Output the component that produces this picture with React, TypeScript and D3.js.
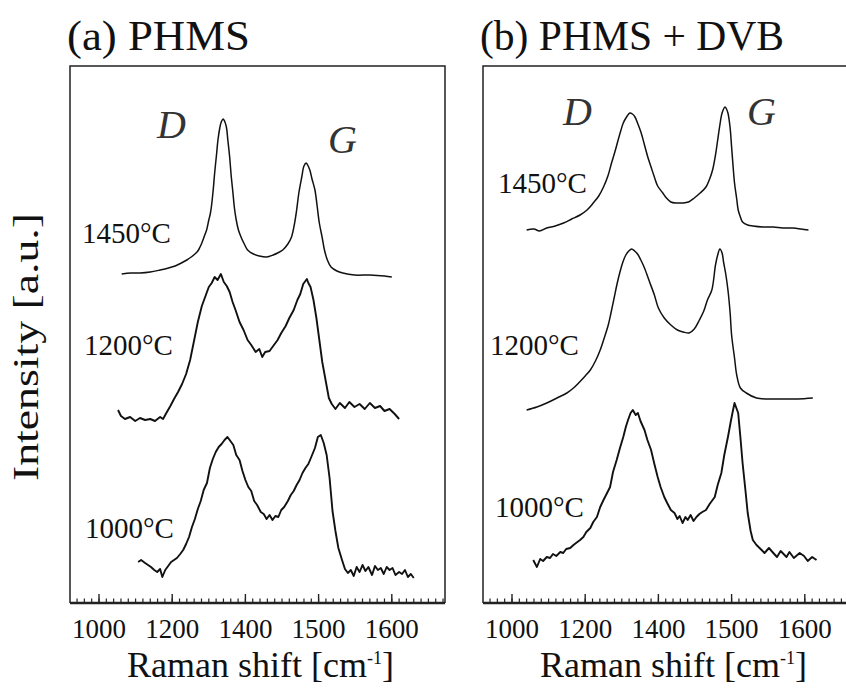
import * as d3 from "d3";

const W = 846;
const H = 689;

// axis labels (the original axis is evenly spaced between these labels)
const tickValues = [1000, 1200, 1400, 1500, 1600];
const panelTitles = ["(a) PHMS", "(b) PHMS + DVB"];
const tempLabels = ["1450°C", "1200°C", "1000°C"];

// [Raman shift, intensity (a.u., stacked)]
const phms1450 = [
  [1062, 329], [1087, 330], [1112, 330], [1140, 331], [1167, 333], [1190, 335], [1208, 337], [1225, 340],
  [1240, 343], [1252, 346], [1262, 349], [1270, 352], [1276, 356], [1281, 360], [1286, 365], [1290, 369],
  [1294, 373], [1300, 383], [1304, 389], [1307, 396], [1312, 413], [1316, 430], [1321, 448], [1325, 463],
  [1330, 475], [1334, 481], [1339, 484], [1343, 482], [1348, 476], [1352, 463], [1357, 446], [1361, 428],
  [1366, 410], [1370, 395], [1375, 383], [1381, 373], [1388, 366], [1397, 359], [1403, 353], [1411, 349],
  [1419, 347], [1429, 346], [1438, 348], [1444, 350], [1451, 353], [1458, 359], [1463, 366], [1467, 379],
  [1470, 393], [1473, 410], [1477, 426], [1480, 437], [1483, 440], [1485, 438], [1488, 433], [1491, 424],
  [1495, 413], [1498, 397], [1501, 380], [1505, 365], [1508, 353], [1512, 343], [1517, 336], [1525, 332],
  [1533, 330], [1549, 328], [1570, 328], [1590, 327], [1600, 326],
];

const phms1200 = [
  [1052, 193], [1060, 187], [1071, 184], [1085, 186], [1099, 182], [1112, 185], [1126, 183], [1140, 184],
  [1153, 182], [1167, 186], [1175, 184], [1184, 190], [1195, 197], [1205, 204], [1216, 211], [1227, 219],
  [1238, 229], [1249, 243], [1259, 261], [1270, 281], [1281, 297], [1292, 308], [1300, 316], [1308, 320],
  [1316, 326], [1324, 323], [1333, 329], [1341, 321], [1349, 317], [1357, 311], [1365, 301], [1373, 293],
  [1384, 281], [1395, 273], [1403, 263], [1408, 258], [1414, 251], [1419, 254], [1423, 246], [1427, 251],
  [1433, 252], [1438, 257], [1444, 263], [1449, 270], [1455, 277], [1460, 285], [1466, 293], [1471, 303],
  [1475, 309], [1479, 319], [1484, 324], [1486, 320], [1489, 316], [1493, 303], [1497, 285], [1501, 263],
  [1505, 241], [1510, 221], [1514, 205], [1518, 199], [1523, 194], [1529, 200], [1536, 195], [1542, 201],
  [1549, 196], [1556, 199], [1563, 194], [1570, 200], [1577, 195], [1584, 197], [1590, 192], [1597, 194],
  [1604, 189], [1610, 184],
];

const phms1000 = [
  [1107, 41], [1115, 43], [1126, 40], [1134, 38], [1142, 36], [1151, 33], [1159, 31], [1167, 34],
  [1173, 26], [1181, 33], [1189, 37], [1197, 41], [1205, 43], [1213, 45], [1222, 49], [1230, 53],
  [1238, 59], [1246, 66], [1254, 76], [1262, 84], [1270, 94], [1278, 102], [1286, 113], [1295, 120],
  [1303, 135], [1311, 144], [1319, 151], [1327, 156], [1335, 159], [1343, 163], [1351, 166], [1359, 162],
  [1367, 158], [1375, 148], [1384, 143], [1392, 132], [1400, 123], [1404, 116], [1408, 112], [1412, 102],
  [1416, 98], [1421, 91], [1425, 89], [1429, 84], [1433, 88], [1437, 83], [1441, 87], [1445, 86],
  [1449, 93], [1453, 96], [1458, 102], [1462, 108], [1466, 112], [1470, 118], [1474, 123], [1478, 130],
  [1482, 135], [1486, 139], [1490, 146], [1495, 155], [1499, 166], [1503, 168], [1507, 160], [1511, 148],
  [1515, 125], [1519, 92], [1523, 72], [1527, 55], [1532, 43], [1536, 34], [1540, 30], [1544, 33],
  [1548, 27], [1552, 36], [1556, 31], [1560, 38], [1564, 32], [1568, 36], [1573, 28], [1577, 37],
  [1581, 33], [1585, 35], [1589, 29], [1593, 36], [1597, 33], [1601, 35], [1605, 28], [1610, 31],
  [1614, 29], [1618, 33], [1622, 26], [1626, 29], [1630, 25],
];

const dvb1450 = [
  [1040, 373], [1060, 374], [1075, 372], [1095, 375], [1118, 377], [1141, 380], [1163, 384], [1186, 388],
  [1205, 393], [1222, 400], [1237, 407], [1250, 416], [1262, 427], [1272, 440], [1281, 451], [1290, 463],
  [1297, 472], [1304, 480], [1313, 486], [1322, 490], [1329, 489], [1336, 486], [1344, 479], [1353, 470],
  [1362, 458], [1371, 446], [1380, 436], [1389, 426], [1398, 417], [1406, 410], [1411, 405], [1417, 401],
  [1425, 400], [1433, 400], [1441, 401], [1449, 405], [1457, 410], [1465, 416], [1470, 424], [1474, 433],
  [1478, 448], [1481, 463], [1484, 478], [1487, 490], [1491, 496], [1493, 494], [1495, 490], [1498, 475],
  [1500, 456], [1502, 437], [1504, 420], [1507, 404], [1509, 393], [1512, 386], [1515, 381], [1522, 378],
  [1529, 377], [1543, 376], [1557, 376], [1570, 375], [1584, 375], [1595, 374], [1605, 373],
];

const dvb1200 = [
  [1040, 193], [1068, 196], [1095, 200], [1123, 205], [1150, 210], [1168, 215], [1182, 220], [1200, 227],
  [1214, 233], [1228, 242], [1241, 253], [1252, 265], [1263, 278], [1271, 291], [1279, 305], [1287, 319],
  [1295, 331], [1303, 341], [1311, 348], [1319, 352], [1327, 354], [1335, 352], [1343, 349], [1352, 343],
  [1362, 335], [1375, 322], [1389, 308], [1400, 295], [1408, 285], [1417, 278], [1426, 273], [1434, 271],
  [1442, 270], [1449, 274], [1456, 283], [1462, 292], [1467, 303], [1473, 313], [1478, 338], [1481, 348],
  [1484, 354], [1487, 350], [1489, 341], [1492, 329], [1495, 313], [1498, 290], [1500, 268], [1504, 245],
  [1507, 228], [1512, 215], [1520, 210], [1534, 205], [1550, 204], [1566, 204], [1590, 204], [1611, 205],
];

const dvb1000 = [
  [1058, 43], [1068, 36], [1077, 44], [1085, 42], [1095, 46], [1104, 45], [1112, 49], [1121, 47],
  [1132, 51], [1140, 50], [1148, 54], [1159, 55], [1168, 58], [1175, 60], [1186, 63], [1195, 66],
  [1203, 71], [1214, 75], [1222, 81], [1232, 86], [1241, 96], [1250, 103], [1257, 108], [1268, 116],
  [1276, 131], [1286, 143], [1295, 155], [1304, 166], [1311, 176], [1317, 183], [1324, 190], [1330, 193],
  [1338, 188], [1344, 190], [1351, 182], [1362, 173], [1370, 163], [1380, 153], [1389, 139], [1398, 126],
  [1403, 116], [1408, 106], [1412, 100], [1417, 93], [1422, 90], [1426, 84], [1429, 87], [1433, 80],
  [1437, 86], [1440, 83], [1444, 88], [1448, 82], [1452, 86], [1456, 89], [1460, 91], [1465, 93],
  [1470, 99], [1474, 103], [1477, 106], [1481, 118], [1486, 130], [1490, 148], [1495, 166], [1499, 182],
  [1502, 193], [1504, 200], [1505, 198], [1509, 190], [1512, 166], [1515, 140], [1519, 112], [1522, 90],
  [1526, 72], [1529, 63], [1534, 58], [1541, 53], [1545, 50], [1551, 55], [1557, 50], [1562, 46],
  [1567, 52], [1575, 46], [1579, 51], [1585, 45], [1593, 50], [1599, 47], [1604, 42], [1610, 46],
  [1616, 43],
];

const panels = [
  {
    left: 70,
    title: panelTitles[0],
    titleLen: 183,
    series: [phms1450, phms1200, phms1000],
    noisy: [false, true, true],
    temps: [[82, 243], [84, 355], [85, 538]],
    dLabel: [157, 138],
    gLabel: [328, 153],
  },
  {
    left: 483,
    title: panelTitles[1],
    titleLen: 304,
    series: [dvb1450, dvb1200, dvb1000],
    noisy: [false, false, true],
    temps: [[498, 193], [490, 355], [495, 517]],
    dLabel: [563, 125],
    gLabel: [747, 125],
  },
];

const TOP = 66;
const BOTTOM = 603;
const PW = 375;
const SERIF = "'Liberation Serif', 'Times New Roman', serif";

function Panel({ p }: { p: (typeof panels)[number] }) {
  const majorStep = 73.2;
  const x0 = p.left + 29;
  const x = d3
    .scaleLinear()
    .domain(tickValues)
    .range(tickValues.map((_, i) => x0 + i * majorStep));
  const y = d3.scaleLinear().domain([0, 537]).range([BOTTOM, TOP]);

  const lineSmooth = d3
    .line<number[]>()
    .x((d) => x(d[0]))
    .y((d) => y(d[1]))
    .curve(d3.curveCatmullRom.alpha(0.5));
  const lineRough = d3
    .line<number[]>()
    .x((d) => x(d[0]))
    .y((d) => y(d[1]));

  // minor ticks: 10 per major interval, evenly spaced in screen space
  const minor: number[] = [];
  const ms = majorStep / 10;
  for (let px = x0; px > p.left + 1; px -= ms) minor.push(px);
  for (let px = x0 + ms; px < p.left + PW - 1; px += ms) minor.push(px);

  const right = p.left + PW;
  return (
    <g>
      <text
        x={p.left - 3}
        y={50}
        fontFamily={SERIF}
        fontSize={43}
        textLength={p.titleLen}
        lengthAdjust="spacingAndGlyphs"
        fill="#111"
      >
        {p.title}
      </text>
      <path
        d={`M${p.left},${BOTTOM} V${TOP} H${right} V${BOTTOM}`}
        fill="none"
        stroke="#222"
        strokeWidth={1.5}
      />
      <line x1={p.left} x2={right} y1={BOTTOM} y2={BOTTOM} stroke="#222" strokeWidth={2.4} />
      {minor.map((px, i) => (
        <line key={"m" + i} x1={px} x2={px} y1={BOTTOM} y2={BOTTOM - 4.5} stroke="#222" strokeWidth={1.2} />
      ))}
      {tickValues.map((t) => (
        <g key={t}>
          <line x1={x(t)} x2={x(t)} y1={BOTTOM} y2={BOTTOM - 9} stroke="#222" strokeWidth={1.4} />
          <text x={x(t)} y={638} textAnchor="middle" fontFamily={SERIF} fontSize={27} fill="#111">
            {t}
          </text>
        </g>
      ))}
      <text x={p.left + PW / 2 + 3} y={677} textAnchor="middle" fontFamily={SERIF} fontSize={36} fill="#111">
        Raman shift [cm
        <tspan dy={-13} fontSize={18}>-1</tspan>
        <tspan dy={13}>]</tspan>
      </text>
      {p.series.map((s, i) => (
        <path
          key={i}
          d={(p.noisy[i] ? lineRough : lineSmooth)(s as number[][]) || ""}
          fill="none"
          stroke="#111"
          strokeWidth={p.noisy[i] ? 1.9 : 1.5}
          strokeLinejoin="round"
        />
      ))}
      {p.temps.map((t, i) => (
        <text key={i} x={t[0]} y={t[1]} fontFamily={SERIF} fontSize={29} fill="#111">
          {tempLabels[i]}
        </text>
      ))}
      <text x={p.dLabel[0]} y={p.dLabel[1]} fontFamily={SERIF} fontStyle="italic" fontSize={40} fill="#333">
        D
      </text>
      <text x={p.gLabel[0]} y={p.gLabel[1]} fontFamily={SERIF} fontStyle="italic" fontSize={40} fill="#333">
        G
      </text>
    </g>
  );
}

export default function App() {
  return (
    <div style={{ position: "absolute", left: 0, top: 0, width: W, height: H, background: "#fff" }}>
      <svg width={W} height={H} viewBox={`0 0 ${W} ${H}`}>
        <rect width={W} height={H} fill="#fff" />
        <text
          transform="translate(38,347) rotate(-90)"
          textAnchor="middle"
          fontFamily={SERIF}
          fontSize={36}
          textLength={268}
          lengthAdjust="spacingAndGlyphs"
          fill="#111"
        >
          Intensity [a.u.]
        </text>
        {panels.map((p, i) => (
          <Panel key={i} p={p} />
        ))}
      </svg>
    </div>
  );
}
